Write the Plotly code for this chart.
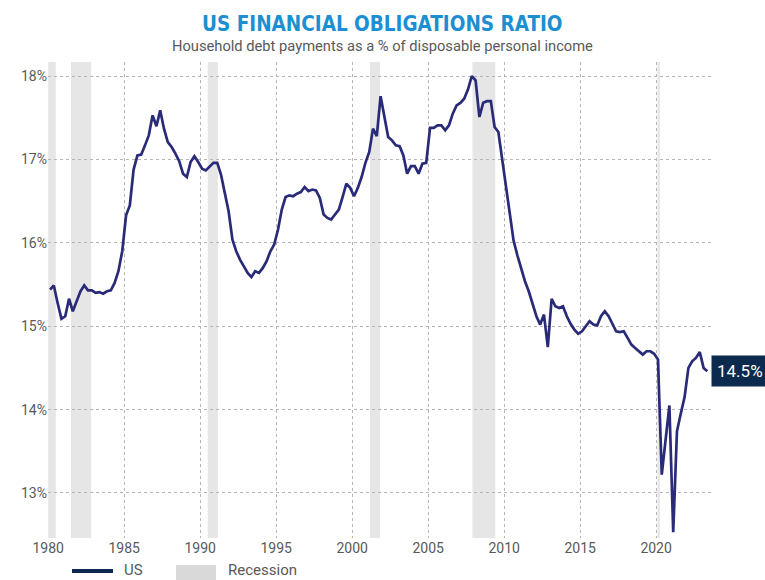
import pandas as pd
import plotly.graph_objects as go

# ---- data (quarterly, 1980Q1 .. 2023Q2), % of disposable personal income
start_quarter = "1980Q1"
ratio = [
    15.44, 15.49, 15.28, 15.09,   # 1980
    15.12, 15.33, 15.18, 15.30,   # 1981
    15.42, 15.49, 15.43, 15.43,   # 1982
    15.40, 15.41, 15.39, 15.42,   # 1983
    15.43, 15.52, 15.66, 15.90,   # 1984
    16.33, 16.45, 16.88, 17.05,   # 1985
    17.06, 17.17, 17.29, 17.53,   # 1986
    17.40, 17.59, 17.37, 17.21,   # 1987
    17.15, 17.07, 16.98, 16.83,   # 1988
    16.79, 16.97, 17.04, 16.97,   # 1989
    16.89, 16.87, 16.91, 16.96,   # 1990
    16.96, 16.82, 16.60, 16.38,   # 1991
    16.04, 15.90, 15.80, 15.72,   # 1992
    15.64, 15.59, 15.66, 15.64,   # 1993
    15.70, 15.78, 15.90, 15.98,   # 1994
    16.16, 16.40, 16.55, 16.57,   # 1995
    16.56, 16.59, 16.61, 16.67,   # 1996
    16.62, 16.64, 16.63, 16.54,   # 1997
    16.34, 16.30, 16.28, 16.34,   # 1998
    16.40, 16.55, 16.71, 16.66,   # 1999
    16.56, 16.66, 16.79, 16.96,   # 2000
    17.09, 17.37, 17.28, 17.76,   # 2001
    17.51, 17.27, 17.23, 17.17,   # 2002
    17.16, 17.05, 16.83, 16.92,   # 2003
    16.92, 16.83, 16.95, 16.96,   # 2004
    17.38, 17.38, 17.41, 17.41,   # 2005
    17.35, 17.41, 17.55, 17.65,   # 2006
    17.68, 17.73, 17.84, 18.00,   # 2007
    17.95, 17.51, 17.68, 17.70,   # 2008
    17.70, 17.39, 17.33, 17.00,   # 2009
    16.65, 16.30, 16.03, 15.85,   # 2010
    15.68, 15.54, 15.42, 15.26,   # 2011
    15.12, 15.02, 15.14, 14.75,   # 2012
    15.33, 15.24, 15.22, 15.24,   # 2013
    15.12, 15.03, 14.96, 14.91,   # 2014
    14.94, 15.00, 15.06, 15.02,   # 2015
    15.01, 15.12, 15.18, 15.12,   # 2016
    15.02, 14.94, 14.93, 14.94,   # 2017
    14.86, 14.78, 14.74, 14.70,   # 2018
    14.66, 14.70, 14.70, 14.67,   # 2019
    14.60, 13.22, 13.64, 14.05,   # 2020
    12.53, 13.74, 13.95, 14.15,   # 2021
    14.50, 14.58, 14.62, 14.69,   # 2022
    14.50, 14.46,                 # 2023
]
recession_starts = ["1980-01-01", "1981-07-01", "1990-07-01", "2001-03-01", "2007-12-01", "2020-02-01"]
recession_ends = ["1980-07-01", "1982-11-01", "1991-03-01", "2001-11-01", "2009-06-01", "2020-04-01"]
last_label = "14.5%"
y_ticks = [13, 14, 15, 16, 17, 18]
y_tick_text = ["13%", "14%", "15%", "16%", "17%", "18%"]

dates = pd.period_range(start_quarter, periods=len(ratio), freq="Q").to_timestamp() + pd.Timedelta(days=45)

# ---- styling
NAVY_LINE = "#2a2b78"
NAVY_DARK = "#0c2a4e"
BLUE_TITLE = "#1b8fd2"
GREY_TXT = "#595959"
FONT = "Roboto"

W, H = 765, 580
ML, MR, MT, MB = 48, 53, 62, 42
PW, PH = W - ML - MR, H - MT - MB


def px_x(px):
    return (px - ML) / PW


def px_y(py):
    return (H - MB - py) / PH


fig = go.Figure()
fig.add_trace(go.Scatter(
    x=dates, y=ratio, mode="lines", name="US",
    line=dict(color=NAVY_LINE, width=2.7), showlegend=False,
    hoverinfo="skip",
))

for s, e in zip(recession_starts, recession_ends):
    fig.add_shape(type="rect", xref="x", yref="paper", x0=s, x1=e, y0=0, y1=1,
                  fillcolor="#e6e6e6", line_width=0, layer="below")

# last value label
fig.add_annotation(x=dates[-1], y=ratio[-1], xref="x", yref="y", text=last_label,
                   showarrow=False, xanchor="left", yanchor="middle", xshift=4,
                   bgcolor=NAVY_DARK, borderpad=5,
                   font=dict(family=FONT, size=17, color="white"))

# title / subtitle
fig.add_annotation(xref="paper", yref="paper", x=px_x(W / 2), y=1, yshift=24,
                   xanchor="center", yanchor="bottom", showarrow=False,
                   text="<b>US FINANCIAL OBLIGATIONS RATIO</b>",
                   font=dict(family="Liberation Sans Narrow, DejaVu Sans Condensed", size=20.5, color=BLUE_TITLE))
fig.add_annotation(xref="paper", yref="paper", x=px_x(W / 2), y=1, yshift=5,
                   xanchor="center", yanchor="bottom", showarrow=False,
                   text="Household debt payments as a % of disposable personal income",
                   font=dict(family=FONT, size=14.7, color=GREY_TXT))

# legend (manual)
fig.add_shape(type="line", xref="paper", yref="paper", x0=px_x(72), x1=px_x(113),
              y0=px_y(571), y1=px_y(571), line=dict(color=NAVY_DARK, width=4))
fig.add_annotation(xref="paper", yref="paper", x=px_x(122), y=px_y(569.5), text="US",
                   showarrow=False, xanchor="left", yanchor="middle",
                   font=dict(family=FONT, size=15, color=GREY_TXT))
fig.add_shape(type="rect", xref="paper", yref="paper", x0=px_x(176), x1=px_x(216),
              y0=px_y(565), y1=px_y(584), fillcolor="#d9d9d9", line_width=0)
fig.add_annotation(xref="paper", yref="paper", x=px_x(226), y=px_y(569.5), text="Recession",
                   showarrow=False, xanchor="left", yanchor="middle",
                   font=dict(family=FONT, size=15, color=GREY_TXT))

fig.update_layout(
    width=W, height=H,
    margin=dict(l=ML, r=MR, t=MT, b=MB, pad=0),
    paper_bgcolor="white", plot_bgcolor="white",
    font=dict(family=FONT, size=14, color=GREY_TXT),
    showlegend=False,
)
fig.update_xaxes(
    type="date", range=["1979-12-28", "2023-09-05"],
    tick0="1980-01-01", dtick="M60", tickformat="%Y",
    showgrid=True, gridcolor="#b5b5b5", griddash="dot", gridwidth=1,
    zeroline=False, showline=False, ticks="",
    tickfont=dict(family=FONT, size=14, color=GREY_TXT),
)
fig.update_yaxes(
    range=[12.46, 18.17], tickvals=y_ticks, ticktext=y_tick_text,
    showgrid=True, gridcolor="#b5b5b5", griddash="dot", gridwidth=1,
    zeroline=False, showline=False, ticks="",
    tickfont=dict(family=FONT, size=14, color=GREY_TXT),
)

fig.write_html("out.html")
